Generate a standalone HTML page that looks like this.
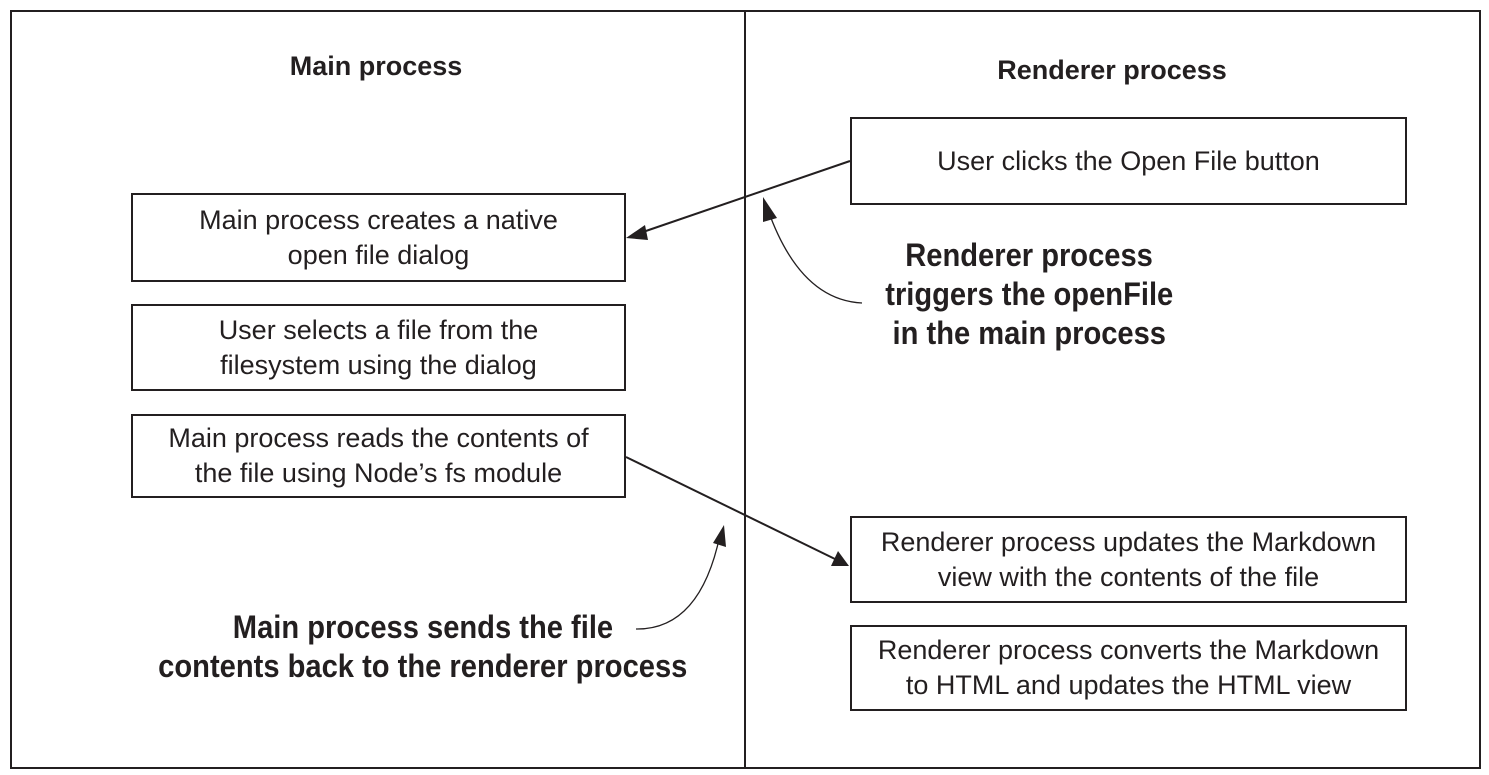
<!DOCTYPE html>
<html><head><style>
body{margin:0;width:1489px;height:775px;background:#fff;position:relative;overflow:hidden;font-family:"Liberation Sans",sans-serif;color:#231f20}
.b{position:absolute;border:2px solid #231f20;box-sizing:border-box;display:flex;align-items:center;justify-content:center;text-align:center;font-size:27px;line-height:35px;white-space:nowrap}
.h{position:absolute;font-weight:bold;font-size:27px;white-space:nowrap;transform:translateX(-50%)}
.n{position:absolute;font-family:"Liberation Sans Narrow","Liberation Sans",sans-serif;font-weight:bold;font-size:32px;line-height:39px;white-space:nowrap;text-align:center;width:600px}
.n span{display:inline-block;transform:scaleX(0.91)}
</style></head><body>
<div style="position:absolute;left:10px;top:10px;width:1471px;height:759px;border:2px solid #231f20;box-sizing:border-box"></div>
<div style="position:absolute;left:744px;top:10px;width:2px;height:759px;background:#231f20"></div>
<div class="h" style="left:376px;top:51px">Main process</div>
<div class="h" style="left:1112px;top:55px">Renderer process</div>
<div class="b" style="left:850px;top:117px;width:557px;height:88px">User clicks the Open File button</div>
<div class="b" style="left:131px;top:193px;width:495px;height:89px">Main process creates a native<br>open file dialog</div>
<div class="b" style="left:131px;top:304px;width:495px;height:87px">User selects a file from the<br>filesystem using the dialog</div>
<div class="b" style="left:131px;top:414px;width:495px;height:84px">Main process reads the contents of<br>the file using Node’s fs module</div>
<div class="b" style="left:850px;top:516px;width:557px;height:87px">Renderer process updates the Markdown<br>view with the contents of the file</div>
<div class="b" style="left:850px;top:625px;width:557px;height:86px">Renderer process converts the Markdown<br>to HTML and updates the HTML view</div>
<div class="n" style="left:729px;top:236px"><span>Renderer process</span><br><span>triggers the openFile</span><br><span>in the main process</span></div>
<div class="n" style="left:123px;top:608px"><span>Main process sends the file</span><br><span>contents back to the renderer process</span></div>
<svg width="1489" height="775" style="position:absolute;left:0;top:0">
<g stroke="#231f20" fill="none">
<line x1="850" y1="161" x2="640" y2="233" stroke-width="2"/>
<path d="M862 303 Q800 300 768 210" stroke-width="1.3"/>
<line x1="626" y1="457" x2="835" y2="559" stroke-width="2"/>
<path d="M636 629 Q700 630 720 535" stroke-width="1.3"/>
</g>
<g fill="#231f20">
<polygon points="626,238 645,225 648,240"/>
<polygon points="763,197 777,218 763,222"/>
<polygon points="849,566 831,566 838,551"/>
<polygon points="724,525 726,547 713,543"/>
</g>
</svg>
</body></html>
